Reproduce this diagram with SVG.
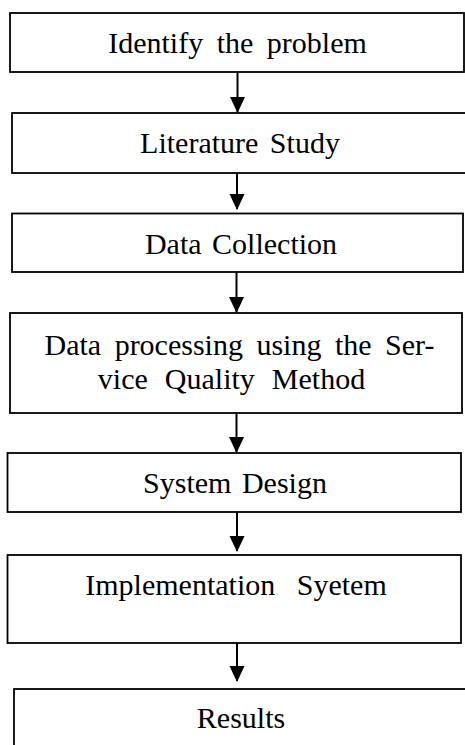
<svg xmlns="http://www.w3.org/2000/svg" width="465" height="745" viewBox="0 0 465 745">
<style>
.box{fill:#fff;stroke:#000;stroke-width:1.8}
.t{font-family:"Liberation Serif","Times New Roman",serif;font-size:30px;fill:#000;text-anchor:middle}
.c{stroke:#000;stroke-width:2;fill:none}
</style>
<defs>
<marker id="ah" markerUnits="userSpaceOnUse" markerWidth="16" markerHeight="18" refX="15" refY="7.5" orient="auto">
<polygon points="0,0 16,7.5 0,15" fill="#000"/>
</marker>
</defs>
<rect width="465" height="745" fill="#fff"/>
<g id="n1"><rect class="box" x="10" y="13" width="454" height="59"/><text class="t" x="237.5" y="52.5" style="word-spacing:6px">Identify the problem</text></g>
<g id="n2"><rect class="box" x="12" y="113" width="456" height="60"/><text class="t" x="240" y="153" style="word-spacing:4px">Literature Study</text></g>
<g id="n3"><rect class="box" x="12" y="213.5" width="451" height="58.5"/><text class="t" x="241" y="253.5" style="word-spacing:3px">Data Collection</text></g>
<g id="n4"><rect class="box" x="10" y="313" width="452" height="100"/><text class="t" x="239.5" y="355" style="word-spacing:6px">Data processing using the Ser-</text><text class="t" x="231.5" y="388.5" style="word-spacing:9.5px">vice Quality Method</text></g>
<g id="n5"><rect class="box" x="7.5" y="453" width="453.5" height="59"/><text class="t" x="235" y="493" style="word-spacing:3px">System Design</text></g>
<g id="n6"><rect class="box" x="7.5" y="555" width="453.5" height="88"/><text class="t" x="236" y="595" style="word-spacing:14px">Implementation Syetem</text></g>
<g id="n7"><rect class="box" x="14" y="689" width="456" height="70"/><text class="t" x="241" y="728">Results</text></g>
<g id="connectors">
<line class="c" x1="237.5" y1="72" x2="237.5" y2="112" marker-end="url(#ah)"/>
<line class="c" x1="237" y1="173" x2="237" y2="209" marker-end="url(#ah)"/>
<line class="c" x1="236.5" y1="272" x2="236.5" y2="312" marker-end="url(#ah)"/>
<line class="c" x1="236.5" y1="413" x2="236.5" y2="452" marker-end="url(#ah)"/>
<line class="c" x1="237" y1="512" x2="237" y2="551" marker-end="url(#ah)"/>
<line class="c" x1="237" y1="643" x2="237" y2="681" marker-end="url(#ah)"/>
</g>
</svg>
